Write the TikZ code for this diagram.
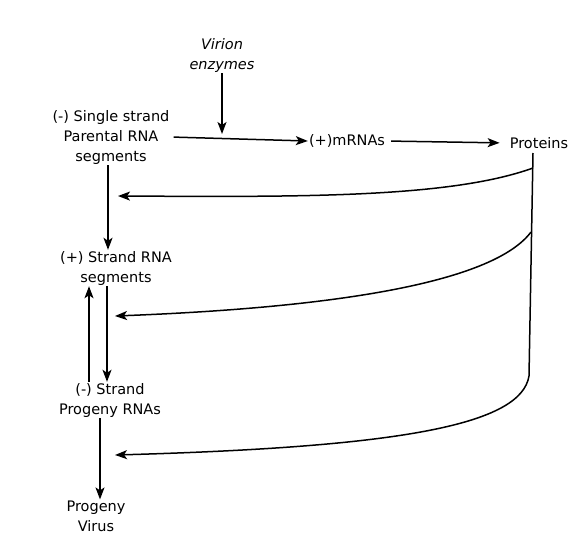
\documentclass[tikz,border=0pt]{standalone}
\usepackage{fontspec}
\setmainfont{DejaVu Sans}
\usetikzlibrary{arrows.meta}
\tikzset{
  lbl/.style={align=center,inner sep=1pt,font=\fontsize{14.5}{20}\selectfont},
  flow/.style={line width=1.5pt,-{Stealth[length=12pt,width=9pt,inset=3pt]}},
  spine/.style={line width=1.5pt}
}

\begin{document}
\begin{tikzpicture}[x=1pt,y=-1pt]
	\useasboundingbox (0,0) rectangle (583,544);
	% labels
	\node[lbl,font=\fontsize{14.5}{20}\selectfont\itshape] (virion) at (222,55) {Virion\\enzymes};
	\node[lbl] (parental) at (111,137) {(-) Single strand\\Parental RNA\\segments};
	\node[lbl] (mrna) at (347,141) {(+)mRNAs};
	\node[lbl] (proteins) at (539,143) {Proteins};
	\node[lbl] (plus) at (116,268) {(+) Strand RNA\\segments};
	\node[lbl] (minus) at (110,400) {(-) Strand\\Progeny RNAs};
	\node[lbl] (virus) at (96,516) {Progeny\\Virus};
	% points on the lines
	\coordinate (meet) at (222,139);
	\coordinate (ptop) at (533,153);
	\coordinate (pbot) at (529,376);
	\coordinate (s1) at (533,168);
	\coordinate (s2) at (531,232);
	\coordinate (t1) at (118,196);
	\coordinate (t2) at (115,316);
	\coordinate (t3) at (115,455);
	% top row
	\draw[flow,shorten >=5pt] (virion) -- (meet);
	\draw[flow,shorten <=3pt] (parental.east) -- (mrna.west);
	\draw[flow,shorten <=5pt,shorten >=9pt] (mrna.east) -- (proteins.west);
	% feedback from proteins
	\draw[spine] (ptop) -- (pbot);
	\draw[flow] (s1) .. controls (450,198) and (300,197) .. (t1);
	\draw[flow] (s2) .. controls (495,280) and (350,307) .. (t2);
	\draw[flow] (pbot) .. controls (521,425) and (400,447) .. (t3);
	% left column
	\draw[flow] ([xshift=-3pt]parental.south) -- ([xshift=-3pt]parental.south |- plus.north);
	\draw[flow] ([xshift=-21pt]minus.north) -- ([xshift=-21pt]minus.north |- plus.south);
	\draw[flow] ([xshift=-9pt]plus.south) -- ([xshift=-9pt]plus.south |- minus.north);
	\draw[flow] ([xshift=-10pt]minus.south) -- ([xshift=-10pt]minus.south |- virus.north);
\end{tikzpicture}
\end{document}
